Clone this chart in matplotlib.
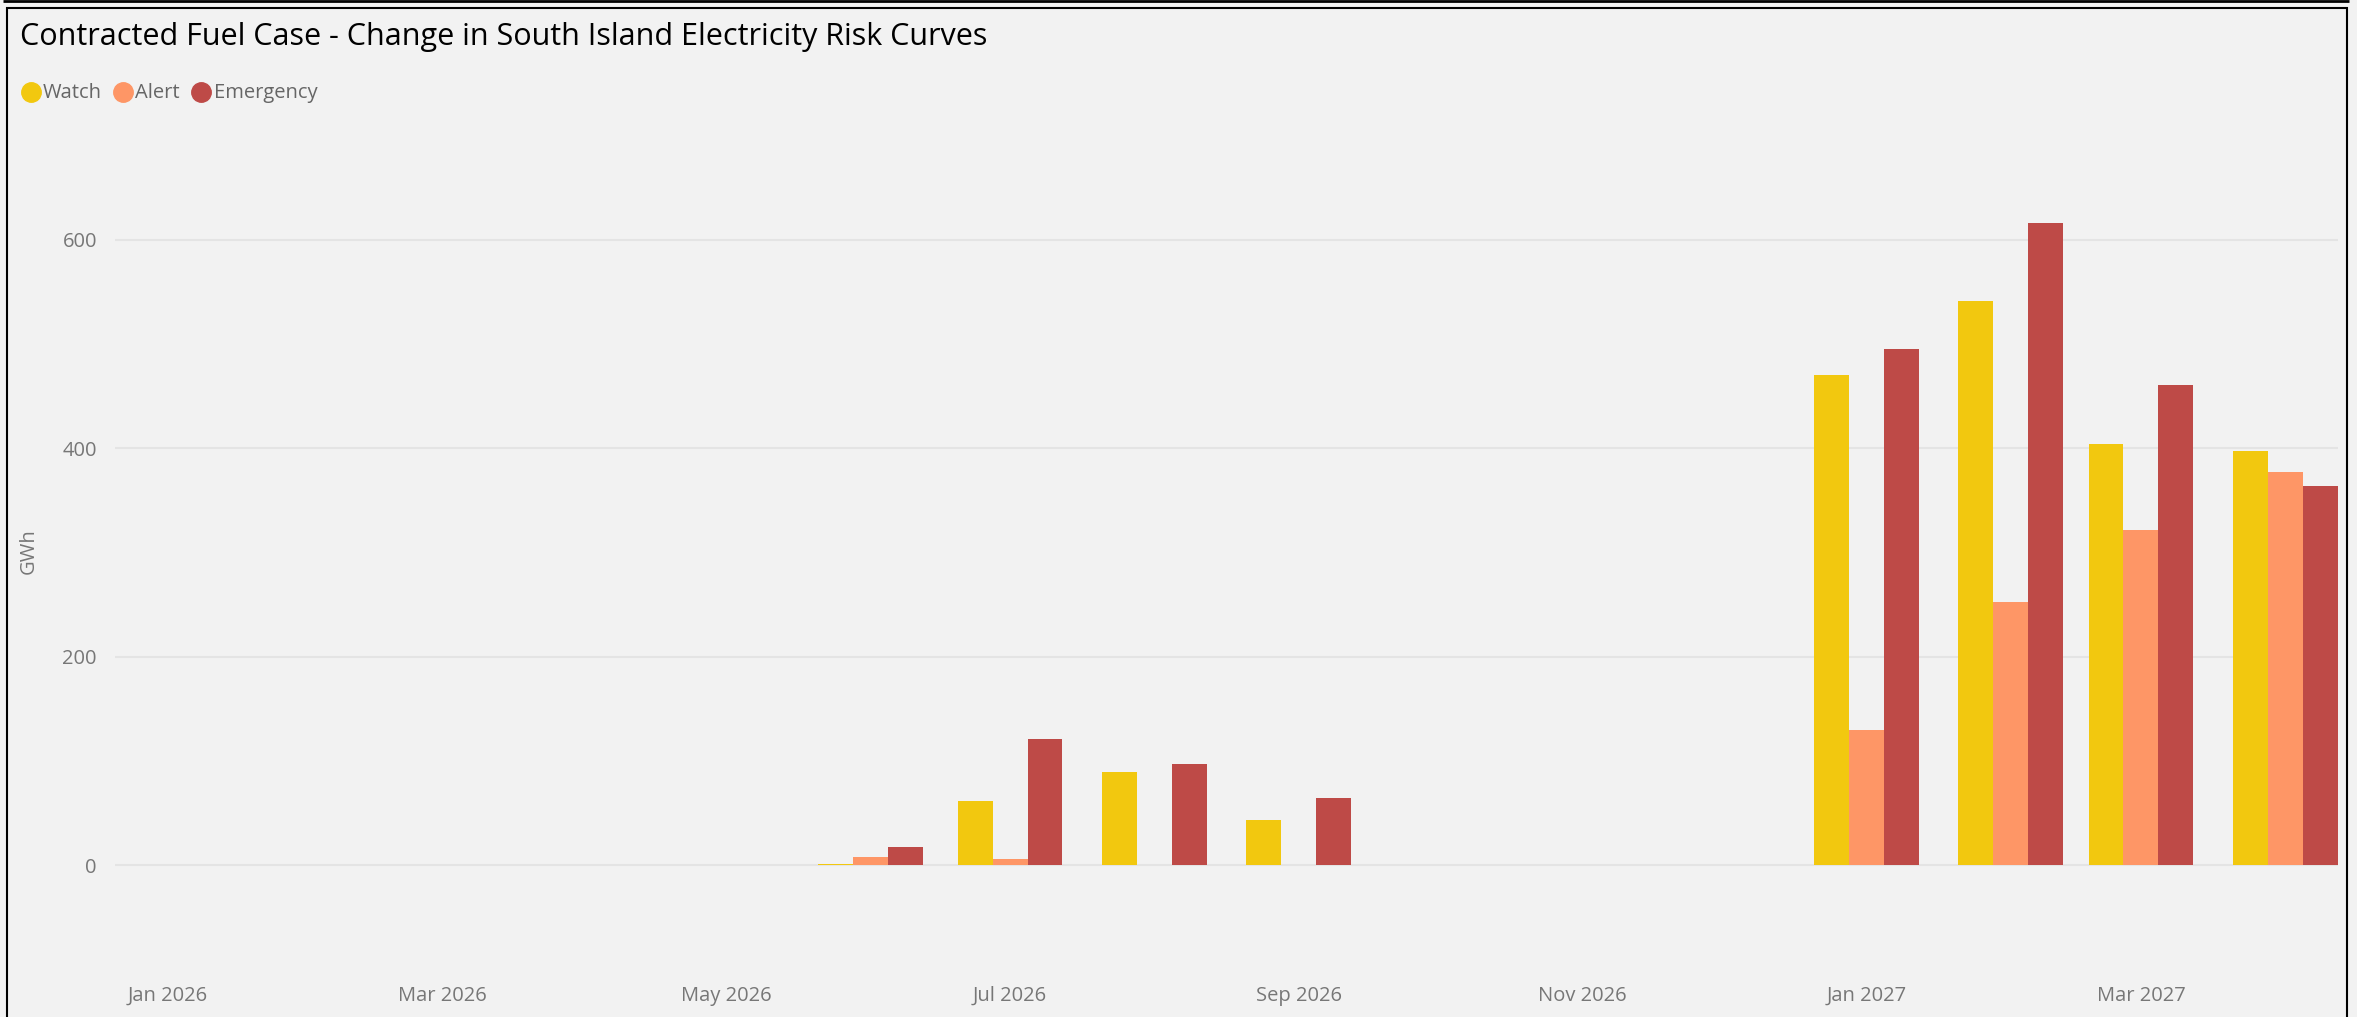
import matplotlib
matplotlib.use("Agg")
import matplotlib.pyplot as plt
import matplotlib.dates as mdates
from matplotlib.lines import Line2D
import numpy as np
import datetime as dt

# ---- data ----
months = ["2026-01", "2026-02", "2026-03", "2026-04", "2026-05", "2026-06",
          "2026-07", "2026-08", "2026-09", "2026-10", "2026-11", "2026-12",
          "2027-01", "2027-02", "2027-03", "2027-04"]
watch = [0, 0, 0, 0, 0, 1.5, 62, 90, 44, 0, 0, 0, 470, 541, 404, 397]
alert = [0, 0, 0, 0, 0, 8.5, 6.5, 0, 0, 0, 0, 0, 130, 253, 322, 377]
emergency = [0, 0, 0, 0, 0, 18, 121.5, 97.5, 65, 0, 0, 0, 495, 615.5, 461, 364]
series_names = ["Watch", "Alert", "Emergency"]
tick_months = ["2026-01", "2026-03", "2026-05", "2026-07", "2026-09", "2026-11", "2027-01", "2027-03"]
tick_labels = ["Jan 2026", "Mar 2026", "May 2026", "Jul 2026", "Sep 2026", "Nov 2026", "Jan 2027", "Mar 2027"]
y_ticks = [0, 200, 400, 600]

colors = ["#F2C80F", "#FE9666", "#BE4A47"]
BG = "#F2F2F2"
FONT = ["Open Sans", "DejaVu Sans"]
plt.rcParams['font.family'] = FONT

W, H = 2357, 1017
fig = plt.figure(figsize=(W / 100, H / 100), dpi=100, facecolor=BG)

def fx(px):
    return px / W

def fy(py):
    return 1 - py / H

ax_l, ax_r, ax_t, ax_b = 115, 2338, 177, 975
ax = fig.add_axes([fx(ax_l), fy(ax_b), fx(ax_r - ax_l), (ax_b - ax_t) / H])
ax.set_facecolor(BG)

x = mdates.date2num([dt.datetime.strptime(m, "%Y-%m") for m in months])
group = 22.5
bw = group / 3
for i, (vals, c) in enumerate(zip([watch, alert, emergency], colors)):
    ax.bar(x + (i - 1) * bw, vals, width=bw, color=c, linewidth=0, zorder=3)

ax.set_xlim(x[0] - group / 2 - 0.1, x[-1] + group / 2 + 0.1)
ax.set_ylim(-105, 660)

tx = mdates.date2num([dt.datetime.strptime(m, "%Y-%m") for m in tick_months])
ax.set_xticks(tx)
ax.set_xticklabels(tick_labels)
ax.set_yticks(y_ticks)
ax.set_yticklabels([str(v) for v in y_ticks])
ax.tick_params(axis='x', length=0, pad=8, labelsize=14.5, labelcolor="#777777")
ax.tick_params(axis='y', length=0, pad=13, labelsize=14.5, labelcolor="#777777")
ax.grid(axis='y', color="#E4E4E4", linewidth=1.5, zorder=0)
for s in ax.spines.values():
    s.set_visible(False)

fig.text(fx(29), fy(551), "GWh", rotation=90, ha='center', va='center',
         fontsize=14.5, color="#777777")

# title
fig.text(fx(20), fy(45), "Contracted Fuel Case - Change in South Island Electricity Risk Curves",
         ha='left', va='baseline', fontsize=22, color="#000000")

# legend
leg_circ_x = [31, 123, 201]
leg_text_x = [43, 135, 214]
for cx, tx_, name, c in zip(leg_circ_x, leg_text_x, series_names, colors):
    fig.add_artist(Line2D([fx(cx)], [fy(92)], marker='o', markersize=14,
                          color=c, linestyle='none', transform=fig.transFigure))
    fig.text(fx(tx_), fy(93), name, ha='left', va='center', fontsize=14.5, color="#666666")

# frame lines
def hline(y0, x0, x1, lw):
    fig.add_artist(Line2D([fx(x0), fx(x1)], [fy(y0), fy(y0)], color="black",
                          linewidth=lw, transform=fig.transFigure, solid_capstyle='butt'))

def vline(x0, y0, y1, lw):
    fig.add_artist(Line2D([fx(x0), fx(x0)], [fy(y0), fy(y1)], color="black",
                          linewidth=lw, transform=fig.transFigure, solid_capstyle='butt'))

hline(1.3, 3, 2349, 2.0)
hline(8, 6, 2348, 1.5)
vline(7, 7, 1017, 1.5)
vline(2347, 7, 1017, 1.5)

fig.savefig("out.png", dpi=100, facecolor=BG)
